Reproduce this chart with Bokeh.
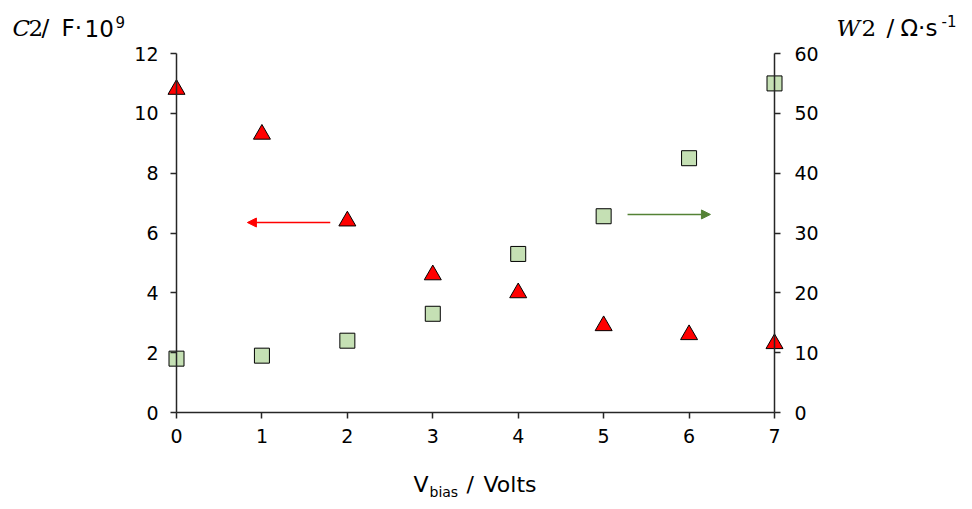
from bokeh.plotting import figure
from bokeh.models import Range1d, LinearAxis, Label, Arrow, NormalHead, FixedTicker
from bokeh.embed import file_html
from bokeh.resources import INLINE

# ---- data ----
v_bias = [0, 1, 2, 3, 4, 5, 6, 7]
c2 = [10.8, 9.3, 6.4, 4.6, 4.0, 2.9, 2.6, 2.3]          # F·10^9 (left axis)
w2 = [9.0, 9.5, 12.0, 16.5, 26.5, 32.8, 42.5, 55.0]      # Ω·s^-1 (right axis)
x_ticks = [0, 1, 2, 3, 4, 5, 6, 7]
left_ticks = [0, 2, 4, 6, 8, 10, 12]
right_ticks = [0, 10, 20, 30, 40, 50, 60]

FONT = "DejaVu Sans"
SERIF = "DejaVu Serif"
AX = "#262626"
W, H = 964, 500

# layout: where the axes sit on the canvas (pixels)
X0_PX, X7_PX = 176, 774      # x = 0 and x = 7
Y0_PX, Y12_PX = 412, 53      # y = 0 and y = 12
x0, x1 = x_ticks[0], x_ticks[-1]
yl_top, yr_top = left_ticks[-1], right_ticks[-1]
pxu_x = (X7_PX - X0_PX) / (x1 - x0)
pxu_y = (Y0_PX - Y12_PX) / yl_top
ratio = yr_top / yl_top

# the frame covers the whole canvas; axes are pinned at data positions
xr = Range1d(x0 - X0_PX / pxu_x, x0 + (W - X0_PX) / pxu_x)
yb, yt = -(H - Y0_PX) / pxu_y, Y0_PX / pxu_y
p = figure(width=W, height=H, output_backend="svg", toolbar_location=None,
           x_range=xr, y_range=Range1d(yb, yt),
           min_border=0, min_border_left=0, min_border_right=0,
           min_border_top=0, min_border_bottom=0)
p.extra_y_ranges = {"right": Range1d(yb * ratio, yt * ratio)}
p.add_layout(LinearAxis(y_range_name="right"), "right")

p.grid.visible = False
p.outline_line_color = None
p.background_fill_color = "white"
p.border_fill_color = "white"

for ax in p.axis:
    ax.axis_line_color = AX
    ax.axis_line_width = 1.5
    ax.major_tick_line_color = AX
    ax.major_tick_line_width = 1.5
    ax.major_tick_out = 6
    ax.major_tick_in = 0
    ax.minor_tick_line_color = None
    ax.major_label_text_font = FONT
    ax.major_label_text_font_size = "19px"
    ax.major_label_text_color = "black"

p.xaxis.ticker = FixedTicker(ticks=x_ticks)
p.xaxis.bounds = (x0, x1)
p.xaxis.fixed_location = 0
p.xaxis.major_label_standoff = 10

p.yaxis[0].ticker = FixedTicker(ticks=left_ticks)
p.yaxis[0].bounds = (0, yl_top)
p.yaxis[0].fixed_location = x0
p.yaxis[0].major_label_standoff = 12
p.yaxis[1].ticker = FixedTicker(ticks=right_ticks)
p.yaxis[1].bounds = (0, yr_top)
p.yaxis[1].fixed_location = x1
p.yaxis[1].major_label_standoff = 14

p.scatter(v_bias, w2, y_range_name="right", marker="square", size=15,
          fill_color="#C5E0B4", line_color="black", line_width=1)
p.scatter(v_bias, c2, marker="triangle", size=17,
          fill_color="#FF0000", line_color="black", line_width=1)

# arrows pointing to each series' axis
p.add_layout(Arrow(x_start=1.8, y_start=6.35, x_end=0.83, y_end=6.35,
                   line_color="#FF0000", line_width=1.5,
                   end=NormalHead(size=9, fill_color="#FF0000", line_color="#FF0000")))
p.add_layout(Arrow(x_start=5.28, y_start=6.62, x_end=6.25, y_end=6.62,
                   line_color="#548235", line_width=1.5,
                   end=NormalHead(size=9, fill_color="#548235", line_color="#548235")))


def lab(px, py, text, size, font=FONT, style="normal"):
    # py is the wanted baseline; the renderer places text ~0.36*size lower
    p.add_layout(Label(x=px, y=py - 0.36 * size, x_units="canvas", y_units="canvas",
                       text=text, text_font=font,
                       text_font_style=style, text_font_size=f"{size}px",
                       text_baseline="alphabetic", text_color="black"))


# left axis title
lab(12, 36, "C", 23, SERIF, "italic")
lab(28, 36, "2", 23, SERIF)
lab(41, 36, "/", 23)
lab(61, 36, "F·", 23)
lab(84, 36, "10", 23)
lab(115, 27, "9", 15)
# right axis title
lab(836, 36, "W", 23, SERIF, "italic")
lab(861, 36, "2", 23, SERIF)
lab(886, 36, "/", 23)
lab(900, 36, "Ω·s", 23)
lab(941, 26, "-1", 15)
# x axis title
lab(413, 492, "V", 22)
lab(429, 497, "bias", 14)
lab(466, 492, "/", 22)
lab(483, 492, "Volts", 22)

open("out.html", "w").write(file_html(p, INLINE))
